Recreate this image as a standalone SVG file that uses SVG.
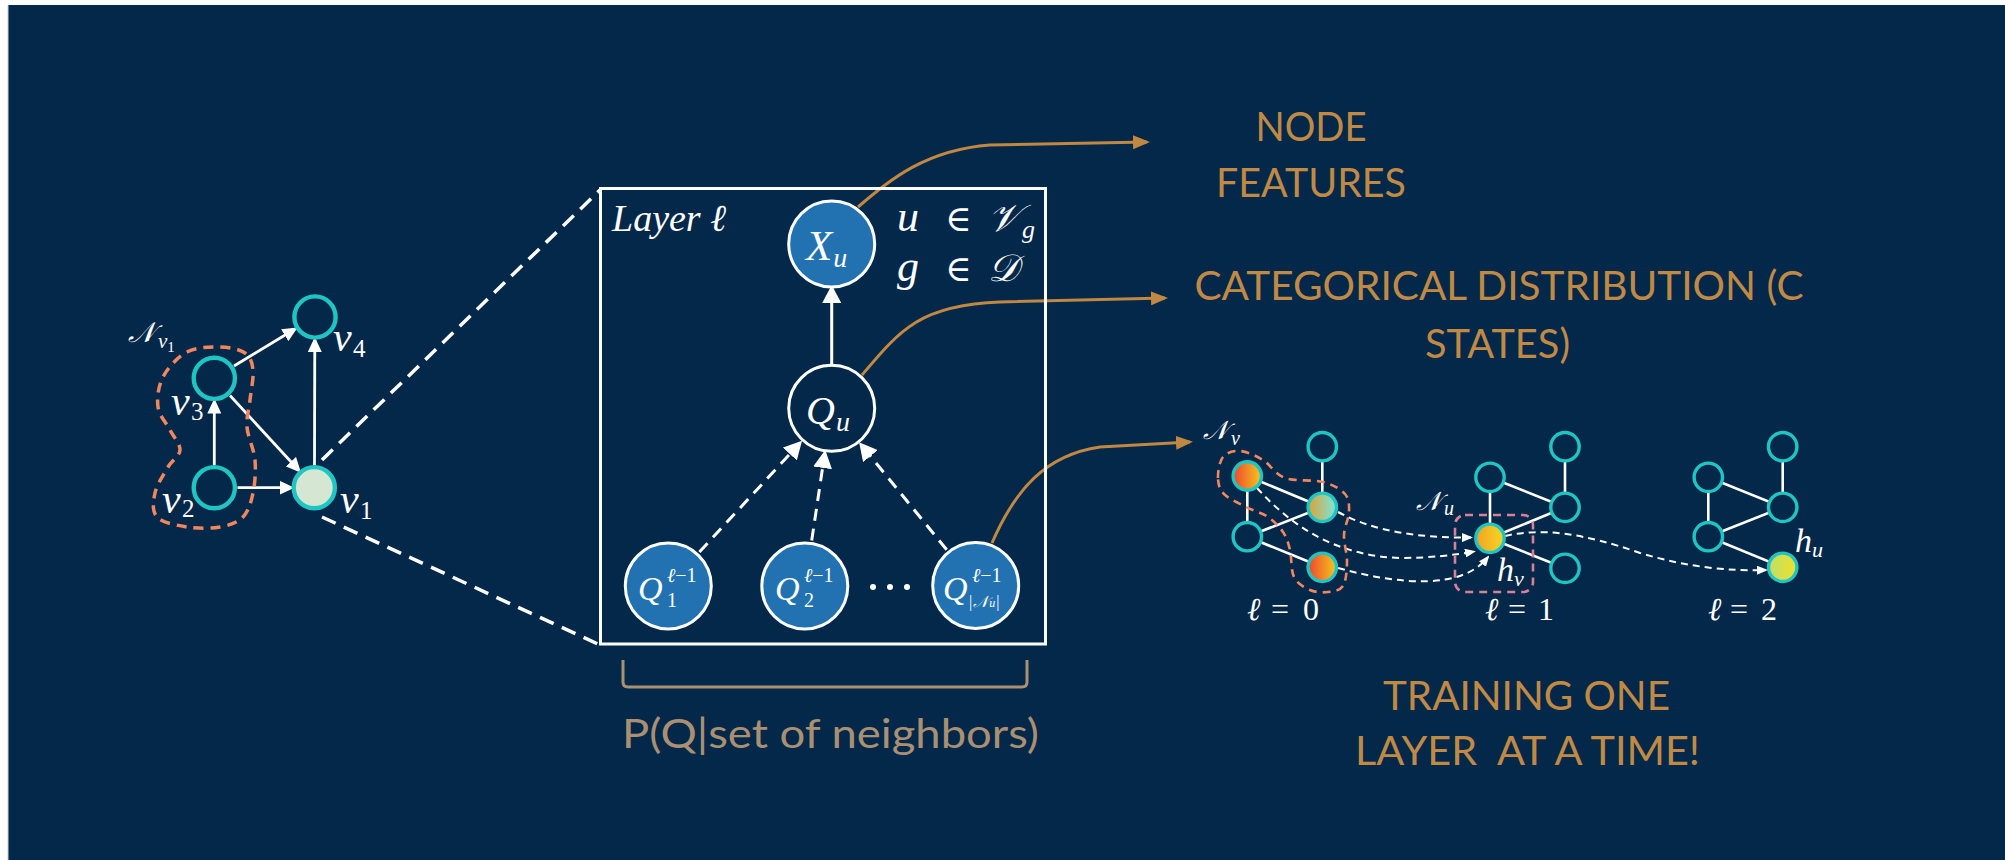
<svg xmlns="http://www.w3.org/2000/svg" width="2005" height="860" viewBox="0 0 2005 860">
  <defs>
    <style>
      .page { fill: #ffffff; }
      .bg { fill: #03284A; }
      .m { font-family: "Liberation Serif", "DejaVu Serif", serif; font-style: italic; fill: #ffffff; }
      .up { font-style: normal; }
      .lbl { font-family: Lato, "Open Sans", sans-serif; fill: #C08A44; font-size: 41px; text-anchor: middle; }
      .tan { font-family: Lato, "Open Sans", sans-serif; fill: #A99073; font-size: 41px; }
      .gn { fill: #03284A; stroke: #1EC5C3; stroke-width: 4.4; }
      .sn { fill: #03284A; stroke: #1EC5C3; stroke-width: 3.4; }
      .bn { fill: #2272B2; stroke: #ffffff; stroke-width: 3; }
      .wn { fill: #03284A; stroke: #ffffff; stroke-width: 3; }
      .edge { stroke: #ffffff; stroke-width: 2.6; fill: none; }
      .arr { stroke: #ffffff; stroke-width: 2.8; fill: none; marker-end: url(#ah-s); }
      .arrL { stroke: #ffffff; stroke-width: 3; fill: none; marker-end: url(#ah-l); }
      .darr { stroke: #ffffff; stroke-width: 3; fill: none; stroke-dasharray: 12 8; marker-end: url(#ah-l); }
      .zoomline { stroke: #ffffff; stroke-width: 3.5; fill: none; stroke-dasharray: 15 9; }
      .flow { stroke: #ffffff; stroke-width: 2; fill: none; stroke-dasharray: 7 5; marker-end: url(#ah-t); }
      .call { stroke: #C08840; stroke-width: 3; fill: none; marker-end: url(#ah-o); }
      .hood { stroke: #F0875F; stroke-width: 3.5; fill: none; stroke-dasharray: 10 7; }
      .hood2 { stroke: #F0875F; stroke-width: 2.6; fill: none; stroke-dasharray: 8 6; }
      .pink { stroke: #D98098; stroke-width: 2.6; fill: none; stroke-dasharray: 8 6; }
    </style>
    <marker id="ah-s" markerUnits="userSpaceOnUse" viewBox="0 0 15 14" markerWidth="15" markerHeight="14" refX="12" refY="7" orient="auto">
      <path d="M0,0 L15,7 L0,14 z" fill="#ffffff"/>
    </marker>
    <marker id="ah-l" markerUnits="userSpaceOnUse" viewBox="0 0 18 19" markerWidth="18" markerHeight="19" refX="15" refY="9.5" orient="auto">
      <path d="M0,0 L18,9.5 L0,19 z" fill="#ffffff"/>
    </marker>
    <marker id="ah-t" markerUnits="userSpaceOnUse" viewBox="0 0 11 9" markerWidth="11" markerHeight="9" refX="9" refY="4.5" orient="auto">
      <path d="M0,0 L11,4.5 L0,9 z" fill="#ffffff"/>
    </marker>
    <marker id="ah-o" markerUnits="userSpaceOnUse" viewBox="0 0 17 14" markerWidth="17" markerHeight="14" refX="14" refY="7" orient="auto">
      <path d="M0,0 L17,7 L0,14 z" fill="#C08840"/>
    </marker>
    <linearGradient id="g-hot" x1="0" y1="0" x2="1" y2="0">
      <stop offset="0" stop-color="#F0452F"/>
      <stop offset="1" stop-color="#F5C81C"/>
    </linearGradient>
    <linearGradient id="g-mix" x1="0" y1="0" x2="1" y2="0">
      <stop offset="0" stop-color="#DBA338"/>
      <stop offset="1" stop-color="#7DE6DA"/>
    </linearGradient>
    <linearGradient id="g-gold" x1="0" y1="0" x2="1" y2="0">
      <stop offset="0" stop-color="#F2A324"/>
      <stop offset="1" stop-color="#F6D622"/>
    </linearGradient>
    <linearGradient id="g-lime" x1="0" y1="0" x2="1" y2="0">
      <stop offset="0" stop-color="#BCE06C"/>
      <stop offset="1" stop-color="#F1E028"/>
    </linearGradient>
  </defs>

  <!-- slide background -->
  <rect class="page" x="0" y="0" width="2005" height="860"/>
  <rect class="bg" x="8" y="5" width="1997" height="855"/>
  <line x1="8" y1="5" x2="8" y2="860" stroke="#C8CCD0" stroke-width="1"/>

  <!-- ===================== connectors ===================== -->
  <g id="connectors">
    <!-- input graph -->
    <line class="arr" x1="234" y1="366" x2="295" y2="329"/>
    <line class="arr" x1="214.3" y1="465" x2="214.3" y2="401.5"/>
    <line class="arr" x1="230" y1="395.5" x2="299" y2="470.5"/>
    <line class="arr" x1="314.5" y1="465" x2="314.8" y2="340"/>
    <line class="arr" x1="237.5" y1="487.7" x2="291.5" y2="487.7"/>
    <!-- zoom-in lines to the plate -->
    <line class="zoomline" x1="322" y1="460" x2="600" y2="190"/>
    <line class="zoomline" x1="322" y1="517" x2="600" y2="645"/>
    <!-- plate edges -->
    <line class="arrL" x1="831.7" y1="365" x2="831.7" y2="288"/>
    <line class="darr" x1="699.4" y1="552" x2="800" y2="443"/>
    <line class="darr" x1="811.7" y1="540.5" x2="824.8" y2="453"/>
    <line class="darr" x1="946.7" y1="549.8" x2="861" y2="444.5"/>
    <!-- callouts -->
    <path class="call" d="M858 207 C890 180, 925 150, 990 145 L1147 142"/>
    <path class="call" d="M862 375 C900 330, 920 305, 1000 302 L1165 298"/>
    <path class="call" d="M992 543 C1015 490, 1045 455, 1100 447 L1190 442"/>
    <!-- layer-wise graph edges: l = 0 -->
    <line class="edge" x1="1247.3" y1="476" x2="1247.3" y2="536.7"/>
    <line class="edge" x1="1247.3" y1="476" x2="1322.3" y2="507.3"/>
    <line class="edge" x1="1322.3" y1="446.7" x2="1322.3" y2="507.3"/>
    <line class="edge" x1="1247.3" y1="536.7" x2="1322.3" y2="507.3"/>
    <line class="edge" x1="1247.3" y1="536.7" x2="1322.3" y2="567.3"/>
    <!-- l = 1 -->
    <line class="edge" x1="1490" y1="477.3" x2="1490" y2="538.3"/>
    <line class="edge" x1="1490" y1="477.3" x2="1565" y2="507.3"/>
    <line class="edge" x1="1565" y1="446.7" x2="1565" y2="507.3"/>
    <line class="edge" x1="1490" y1="538.3" x2="1565" y2="507.3"/>
    <line class="edge" x1="1490" y1="538.3" x2="1565" y2="568.3"/>
    <!-- l = 2 -->
    <line class="edge" x1="1708.3" y1="477.3" x2="1708.3" y2="536.7"/>
    <line class="edge" x1="1708.3" y1="477.3" x2="1782.7" y2="507.3"/>
    <line class="edge" x1="1782.7" y1="446.7" x2="1782.7" y2="507.3"/>
    <line class="edge" x1="1708.3" y1="536.7" x2="1782.7" y2="507.3"/>
    <line class="edge" x1="1708.3" y1="536.7" x2="1782.7" y2="567.3"/>
  </g>

  <!-- ===================== input graph ===================== -->
  <g id="neighbourhood-v1">
    <path class="hood" d="M187 352 C196.5 347, 210.3 346.8, 220 347 C229.7 347.2, 239.5 349.2, 245 353 C250.5 356.8, 252.2 362.2, 253 370 C253.8 377.8, 251 390.5, 250 400 C249 409.5, 246.2 417, 247 427 C247.8 437, 254 449, 255 460 C256 471, 255 483.5, 253 493 C251 502.5, 248.5 511.3, 243 517 C237.5 522.7, 229.3 525.3, 220 527 C210.7 528.7, 197.5 528.7, 187 527 C176.5 525.3, 162.3 522.7, 157 517 C151.7 511.3, 153.2 501.3, 155 493 C156.8 484.7, 163.8 474.2, 168 467 C172.2 459.8, 179.7 456.2, 180 450 C180.3 443.8, 173.7 437.2, 170 430 C166.3 422.8, 159.2 415.8, 158 407 C156.8 398.2, 158.2 386.2, 163 377 C167.8 367.8, 177.5 357, 187 352 Z"/>
    <text class="m" x="128" y="342" font-size="28">𝒩<tspan dx="3" dy="6" font-size="21">v</tspan><tspan class="up" dy="4" font-size="15">1</tspan></text>
  </g>
  <g id="node-v4">
    <circle class="gn" cx="315" cy="317" r="20.6"/>
    <text class="m" x="333" y="351" font-size="42">v<tspan class="up" x="353" y="357" font-size="25">4</tspan></text>
  </g>
  <g id="node-v3">
    <circle class="gn" cx="214.3" cy="378.3" r="20.6"/>
    <text class="m" x="171" y="415" font-size="42">v<tspan class="up" x="191" y="420" font-size="25">3</tspan></text>
  </g>
  <g id="node-v2">
    <circle class="gn" cx="214.3" cy="487.7" r="20.6"/>
    <text class="m" x="162" y="513" font-size="42">v<tspan class="up" x="182" y="517" font-size="25">2</tspan></text>
  </g>
  <g id="node-v1">
    <circle class="gn" cx="314.3" cy="487.7" r="20.6" style="fill:#D5E7D3"/>
    <text class="m" x="340" y="513" font-size="42">v<tspan class="up" x="360" y="519" font-size="25">1</tspan></text>
  </g>

  <!-- ===================== plate ===================== -->
  <g id="plate">
    <rect x="600.5" y="188.5" width="445" height="455.5" fill="none" stroke="#ffffff" stroke-width="3"/>
    <text class="m" x="612" y="231" font-size="38">Layer ℓ</text>
    <text class="m" x="897" y="231" font-size="44">u</text>
    <text class="m up" x="945" y="231" font-size="36">∈</text>
    <text class="m" x="988" y="231" font-size="38">𝒱<tspan dx="2" dy="7" font-size="26">g</tspan></text>
    <text class="m" x="897" y="281" font-size="44">g</text>
    <text class="m up" x="945" y="281" font-size="36">∈</text>
    <text class="m" x="988" y="281" font-size="38">𝒟</text>
  </g>
  <g id="node-Xu">
    <circle class="bn" cx="831.7" cy="244" r="43"/>
    <text class="m" x="806" y="260" font-size="43">X<tspan dx="1" dy="7" font-size="28">u</tspan></text>
  </g>
  <g id="node-Qu">
    <circle class="wn" cx="831.7" cy="408.3" r="43"/>
    <text class="m" x="806" y="424" font-size="40">Q<tspan dx="1" dy="7" font-size="28">u</tspan></text>
  </g>
  <g id="node-Q1">
    <circle class="bn" cx="668.3" cy="586" r="43"/>
    <text class="m" x="638" y="600" font-size="34">Q</text>
    <text class="m" x="667" y="582" font-size="20">ℓ<tspan class="up">−1</tspan></text>
    <text class="m up" x="667" y="607" font-size="20">1</text>
  </g>
  <g id="node-Q2">
    <circle class="bn" cx="804.8" cy="586" r="43"/>
    <text class="m" x="775" y="600" font-size="34">Q</text>
    <text class="m" x="804" y="582" font-size="20">ℓ<tspan class="up">−1</tspan></text>
    <text class="m up" x="804" y="607" font-size="20">2</text>
  </g>
  <g id="ellipsis">
    <circle cx="873" cy="587" r="3" fill="#ffffff"/>
    <circle cx="890" cy="587" r="3" fill="#ffffff"/>
    <circle cx="907" cy="587" r="3" fill="#ffffff"/>
  </g>
  <g id="node-QN">
    <circle class="bn" cx="975.7" cy="585.5" r="43"/>
    <text class="m" x="943" y="600" font-size="34">Q</text>
    <text class="m" x="972" y="582" font-size="20">ℓ<tspan class="up">−1</tspan></text>
    <text class="m" x="969" y="607" font-size="16"><tspan class="up">|</tspan><tspan dx="1">𝒩</tspan><tspan dx="1" font-size="12">u</tspan><tspan class="up" dx="1">|</tspan></text>
  </g>

  <!-- neighbour-set brace and caption -->
  <g id="neighbour-set">
    <path d="M623 660 L623 682 Q623 687 628 687 L1022 687 Q1027 687 1027 682 L1027 660" fill="none" stroke="#A99073" stroke-width="3"/>
    <text class="tan" x="622" y="748" textLength="417" lengthAdjust="spacingAndGlyphs">P(Q|set of neighbors)</text>
  </g>

  <!-- ===================== callout labels ===================== -->
  <g id="label-node-features">
    <text class="lbl" x="1311" y="141" textLength="111" lengthAdjust="spacingAndGlyphs">NODE</text>
    <text class="lbl" x="1311" y="197" textLength="190" lengthAdjust="spacingAndGlyphs">FEATURES</text>
  </g>
  <g id="label-categorical">
    <text class="lbl" x="1499" y="300" textLength="609" lengthAdjust="spacingAndGlyphs">CATEGORICAL DISTRIBUTION (C</text>
    <text class="lbl" x="1497.5" y="358" textLength="145" lengthAdjust="spacingAndGlyphs">STATES)</text>
  </g>
  <g id="label-training">
    <text class="lbl" x="1526.5" y="710" textLength="287" lengthAdjust="spacingAndGlyphs">TRAINING ONE</text>
    <text class="lbl" x="1527.5" y="765" textLength="345" lengthAdjust="spacingAndGlyphs" style="white-space:pre">LAYER  AT A TIME!</text>
  </g>

  <!-- ===================== layer-wise training ===================== -->
  <g id="flows">
    <path class="flow" d="M1338 512 C1375 532, 1420 538, 1471 537.5"/>
    <path class="flow" d="M1257 488 C1295 530, 1340 556, 1400 558 C1430 558, 1455 555, 1474 551.5"/>
    <path class="flow" d="M1338 568 C1400 585, 1462 590, 1488 557"/>
    <path class="flow" d="M1505 536 C1540 528, 1580 532, 1640 553 C1690 568, 1730 571, 1766 570"/>
  </g>

  <g id="layer-0">
    <path class="hood2" d="M1218 478 C1217.8 471.8, 1219.3 461.5, 1223 457 C1226.7 452.5, 1233.3 450.5, 1240 451 C1246.7 451.5, 1255.5 455.5, 1263 460 C1270.5 464.5, 1275 474.3, 1285 478 C1295 481.7, 1313 479.3, 1323 482 C1333 484.7, 1340.7 489, 1345 494 C1349.3 499, 1349.2 505.2, 1349 512 C1348.8 518.8, 1344.3 526.7, 1344 535 C1343.7 543.3, 1347.2 553.5, 1347 562 C1346.8 570.5, 1346.2 581, 1343 586 C1339.8 591, 1333.5 591.3, 1328 592 C1322.5 592.7, 1315.7 592.5, 1310 590 C1304.3 587.5, 1297.3 583.7, 1294 577 C1290.7 570.3, 1291.8 557.5, 1290 550 C1288.2 542.5, 1286.7 537.5, 1283 532 C1279.3 526.5, 1274.2 521.2, 1268 517 C1261.8 512.8, 1253.3 510.8, 1246 507 C1238.7 503.2, 1228.7 498.8, 1224 494 C1219.3 489.2, 1218.2 484.2, 1218 478 Z"/>
    <circle class="sn" cx="1247.3" cy="476" r="14.2" style="fill:url(#g-hot)"/>
    <circle class="sn" cx="1322.3" cy="446.7" r="14.2"/>
    <circle class="sn" cx="1322.3" cy="507.3" r="14.2" style="fill:url(#g-mix)"/>
    <circle class="sn" cx="1247.3" cy="536.7" r="14.2"/>
    <circle class="sn" cx="1322.3" cy="567.3" r="14.2" style="fill:url(#g-hot)"/>
    <text class="m" x="1203" y="439" font-size="26">𝒩<tspan dx="3" dy="6" font-size="20">v</tspan></text>
    <text class="m" x="1247" y="620" font-size="32">ℓ<tspan class="up" x="1271" font-size="32">=</tspan><tspan class="up" x="1303" font-size="32">0</tspan></text>
  </g>

  <g id="layer-1">
    <rect class="pink" x="1455" y="515" width="78" height="77" rx="10"/>
    <circle class="sn" cx="1490" cy="477.3" r="14.2"/>
    <circle class="sn" cx="1565" cy="446.7" r="14.2"/>
    <circle class="sn" cx="1565" cy="507.3" r="14.2"/>
    <circle class="sn" cx="1490" cy="538.3" r="14.2" style="fill:url(#g-gold)"/>
    <circle class="sn" cx="1565" cy="568.3" r="14.2"/>
    <text class="m" x="1416" y="510" font-size="26">𝒩<tspan dx="3" dy="5" font-size="20">u</tspan></text>
    <text class="m" x="1497" y="581" font-size="34">h<tspan dx="0" dy="5" font-size="22">v</tspan></text>
    <text class="m" x="1485" y="620" font-size="32">ℓ<tspan class="up" x="1508" font-size="32">=</tspan><tspan class="up" x="1538" font-size="32">1</tspan></text>
  </g>

  <g id="layer-2">
    <circle class="sn" cx="1708.3" cy="477.3" r="14.2"/>
    <circle class="sn" cx="1782.7" cy="446.7" r="14.2"/>
    <circle class="sn" cx="1782.7" cy="507.3" r="14.2"/>
    <circle class="sn" cx="1708.3" cy="536.7" r="14.2"/>
    <circle class="sn" cx="1782.7" cy="567.3" r="14.2" style="fill:url(#g-lime)"/>
    <text class="m" x="1795" y="552" font-size="34">h<tspan dx="0" dy="5" font-size="22">u</tspan></text>
    <text class="m" x="1708" y="620" font-size="32">ℓ<tspan class="up" x="1730" font-size="32">=</tspan><tspan class="up" x="1761" font-size="32">2</tspan></text>
  </g>
</svg>
